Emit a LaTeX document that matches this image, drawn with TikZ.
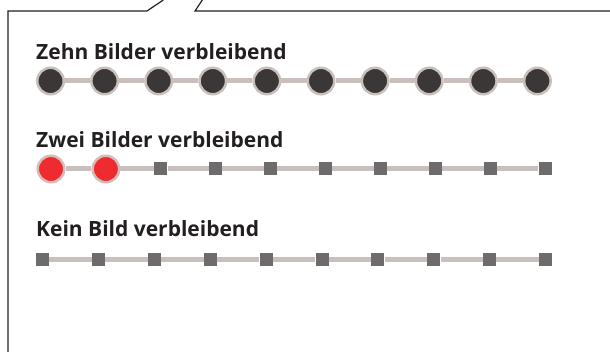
\documentclass[tikz,border=0pt]{standalone}
\usepackage{fontspec}
\setmainfont{Open Sans}
\usetikzlibrary{positioning}
\definecolor{Ink}{HTML}{231F20}
\definecolor{Track}{HTML}{C9C0BD}
\definecolor{Ring}{HTML}{C9BFBB}
\definecolor{RedRing}{HTML}{D6BCB8}
\definecolor{Dark}{HTML}{3A3736}
\definecolor{Red}{HTML}{EE2B2F}
\definecolor{Slot}{HTML}{6D6B6C}

\begin{document}
\begin{tikzpicture}[
  x=1pt,y=-1pt,
  title/.style={anchor=base west,inner sep=0pt,text=Ink,font=\bfseries\fontsize{21}{21}\selectfont},
  full/.style={circle,draw=Ring,line width=2.5pt,fill=Dark,minimum size=26.5pt,inner sep=0pt},
  used/.style={circle,draw=RedRing,line width=2.5pt,fill=Red,minimum size=26.5pt,inner sep=0pt},
  empty/.style={rectangle,fill=Slot,minimum size=13pt,inner sep=0pt},
  track/.style={Track,line width=5pt}
]
  \useasboundingbox (0,0) rectangle (610,352);
  % callout frame
  \draw[Ink,line width=1.2pt] (8,352) -- (8,11) -- (147,11) -- (163.3,0);
  \draw[Ink,line width=1.2pt] (202.3,0) -- (195,11) -- (610,11);

  % ten left
  \node[title] (tenlabel) at (36,60) {Zehn Bilder verbleibend};
  \foreach \i in {1,...,10}
    \node[full] (a\i) at ({50.5+54.1*(\i-1)},81) {};
  \foreach \i [count=\j from 2] in {1,...,9}
    \draw[track] (a\i) -- (a\j);

  % two left
  \node[title] (twolabel) at (36,148) {Zwei Bilder verbleibend};
  \foreach \i in {1,2}
    \node[used] (b\i) at ({51+54.9*(\i-1)},169) {};
  \foreach \i in {3,...,10}
    \node[empty] (b\i) at ({51+54.9*(\i-1)},169) {};
  \foreach \i [count=\j from 2] in {1,...,9}
    \draw[track] (b\i) -- (b\j);

  % none left
  \node[title] (nonelabel) at (36,237) {Kein Bild verbleibend};
  \foreach \i in {1,...,10}
    \node[empty] (c\i) at ({42.5+55.9*(\i-1)},260) {};
  \foreach \i [count=\j from 2] in {1,...,9}
    \draw[track] (c\i) -- (c\j);
\end{tikzpicture}
\end{document}
